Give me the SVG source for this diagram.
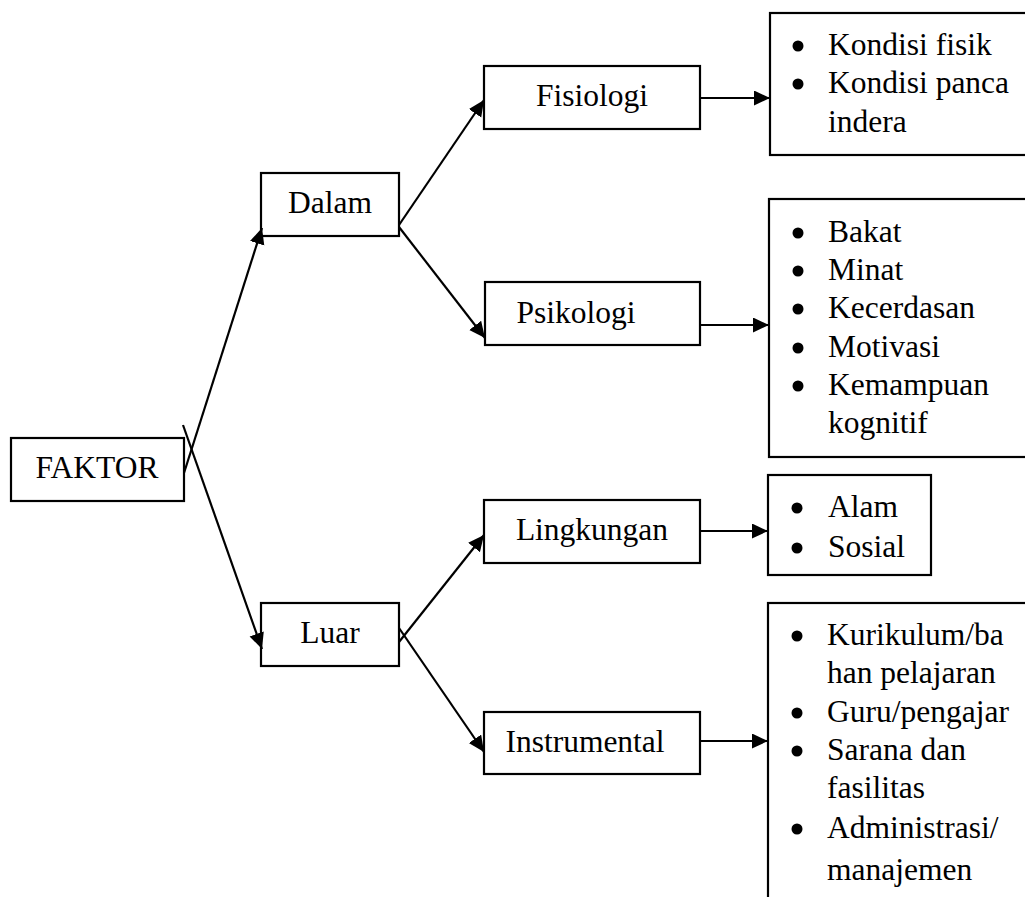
<svg xmlns="http://www.w3.org/2000/svg" width="1025" height="897" viewBox="0 0 1025 897">
<style>
  .box { fill: #fff; stroke: #000; stroke-width: 2.2; }
  .lbl { font-family: "Liberation Serif", "Times New Roman", serif; font-size: 31.5px; fill: #000; }
  .c { text-anchor: middle; }
  .bul { fill: #000; }
  .conn line { stroke: #000; stroke-width: 2.2; marker-end: url(#ah); }
</style>
<defs>
  <marker id="ah" markerUnits="userSpaceOnUse" markerWidth="18" markerHeight="16" refX="16" refY="7.5" orient="auto">
    <path d="M0,0 L16,7.5 L0,15 z" fill="#000"/>
  </marker>
</defs>
<rect width="1025" height="897" fill="#fff"/>

<g id="faktor">
  <rect class="box" x="11" y="438" width="173" height="63"/>
  <text class="lbl c" x="97" y="478">FAKTOR</text>
</g>
<g id="dalam">
  <rect class="box" x="261" y="173" width="138" height="63"/>
  <text class="lbl c" x="330" y="213">Dalam</text>
</g>
<g id="luar">
  <rect class="box" x="261" y="603" width="138" height="63"/>
  <text class="lbl c" x="330" y="643">Luar</text>
</g>
<g id="fisiologi">
  <rect class="box" x="484" y="66" width="216" height="63"/>
  <text class="lbl c" x="592" y="106">Fisiologi</text>
</g>
<g id="psikologi">
  <rect class="box" x="485" y="282" width="215" height="63"/>
  <text class="lbl c" x="576" y="323">Psikologi</text>
</g>
<g id="lingkungan">
  <rect class="box" x="484" y="500" width="216" height="63"/>
  <text class="lbl c" x="592" y="540">Lingkungan</text>
</g>
<g id="instrumental">
  <rect class="box" x="484" y="712" width="216" height="62"/>
  <text class="lbl c" x="585" y="752">Instrumental</text>
</g>

<g id="list-fisiologi">
  <rect class="box" x="770" y="13" width="300" height="142"/>
  <circle class="bul" cx="798" cy="46" r="5.5"/>
  <circle class="bul" cx="798" cy="84" r="5.5"/>
  <text class="lbl" x="828" y="55">Kondisi fisik</text>
  <text class="lbl" x="828" y="93">Kondisi panca</text>
  <text class="lbl" x="828" y="132">indera</text>
</g>
<g id="list-psikologi">
  <rect class="box" x="769" y="199" width="300" height="258"/>
  <circle class="bul" cx="798" cy="233" r="5.5"/>
  <circle class="bul" cx="798" cy="271" r="5.5"/>
  <circle class="bul" cx="798" cy="309" r="5.5"/>
  <circle class="bul" cx="798" cy="348" r="5.5"/>
  <circle class="bul" cx="798" cy="386" r="5.5"/>
  <text class="lbl" x="828" y="242">Bakat</text>
  <text class="lbl" x="828" y="280">Minat</text>
  <text class="lbl" x="828" y="318">Kecerdasan</text>
  <text class="lbl" x="828" y="357">Motivasi</text>
  <text class="lbl" x="828" y="395">Kemampuan</text>
  <text class="lbl" x="828" y="433">kognitif</text>
</g>
<g id="list-lingkungan">
  <rect class="box" x="768" y="475" width="163" height="100"/>
  <circle class="bul" cx="797" cy="508" r="5.5"/>
  <circle class="bul" cx="797" cy="548" r="5.5"/>
  <text class="lbl" x="828" y="517">Alam</text>
  <text class="lbl" x="828" y="557">Sosial</text>
</g>
<g id="list-instrumental">
  <rect class="box" x="768" y="603" width="300" height="400"/>
  <circle class="bul" cx="797" cy="636" r="5.5"/>
  <circle class="bul" cx="797" cy="713" r="5.5"/>
  <circle class="bul" cx="797" cy="751" r="5.5"/>
  <circle class="bul" cx="797" cy="829" r="5.5"/>
  <text class="lbl" x="827" y="645">Kurikulum/ba</text>
  <text class="lbl" x="827" y="683">han pelajaran</text>
  <text class="lbl" x="827" y="722">Guru/pengajar</text>
  <text class="lbl" x="827" y="760">Sarana dan</text>
  <text class="lbl" x="827" y="798">fasilitas</text>
  <text class="lbl" x="827" y="838">Administrasi/</text>
  <text class="lbl" x="827" y="880">manajemen</text>
</g>

<g id="connectors" class="conn">
  <line x1="184" y1="473" x2="262" y2="228"/>
  <line x1="183" y1="425" x2="262" y2="649"/>
  <line x1="399" y1="225" x2="484" y2="100"/>
  <line x1="399" y1="227" x2="485" y2="338"/>
  <line x1="399" y1="642" x2="484" y2="535"/>
  <line x1="399" y1="628" x2="484" y2="752"/>
  <line x1="700" y1="98" x2="770" y2="98"/>
  <line x1="700" y1="325" x2="769" y2="325"/>
  <line x1="700" y1="531" x2="768" y2="531"/>
  <line x1="700" y1="741" x2="768" y2="741"/>
</g>
</svg>
